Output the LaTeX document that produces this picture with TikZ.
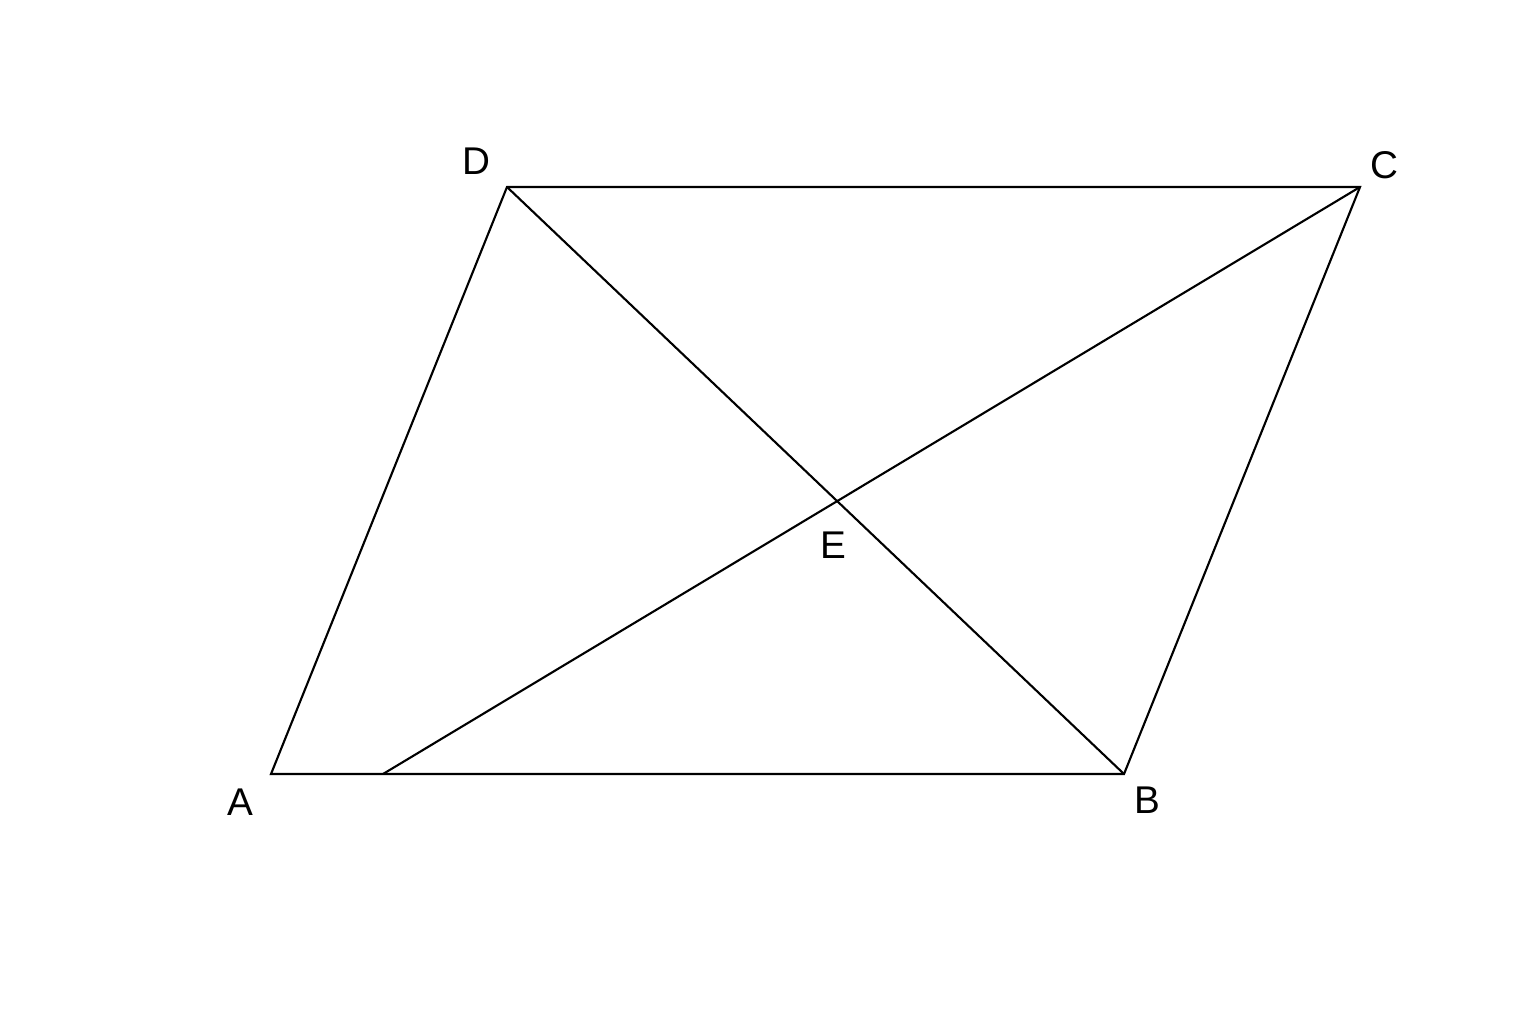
\documentclass[tikz,border=0pt]{standalone}
\usepackage{fontspec}
\setmainfont{Liberation Sans}
\begin{document}
\begin{tikzpicture}[
  edge/.style={draw, line width=0.6pt, line join=miter},
  lbl/.style={font=\fontsize{11}{13}\selectfont, inner sep=0pt}
]
\useasboundingbox (0,0) rectangle (15.36,10.24);

% --- Vertices ---
\coordinate (A) at (2.71,2.50);
\coordinate (B) at (11.24,2.50);
\coordinate (C) at (13.60,8.37);
\coordinate (D) at (5.07,8.37);
\coordinate (F) at (3.83,2.50);
\coordinate (E) at (intersection of C--F and D--B);

% Parallelogram and lines
\draw[edge] (A) -- (B) -- (C) -- (D) -- cycle;
\draw[edge] (D) -- (B);
\draw[edge] (C) -- (F);

% Labels
\node[lbl] (labA) at (2.40,2.22) {A};
\node[lbl] (labB) at (11.47,2.24) {B};
\node[lbl] (labC) at (13.84,8.59) {C};
\node[lbl] (labD) at (4.76,8.63) {D};
\node[lbl] (labE) at (8.33,4.79) {E};

\end{tikzpicture}
\end{document}
